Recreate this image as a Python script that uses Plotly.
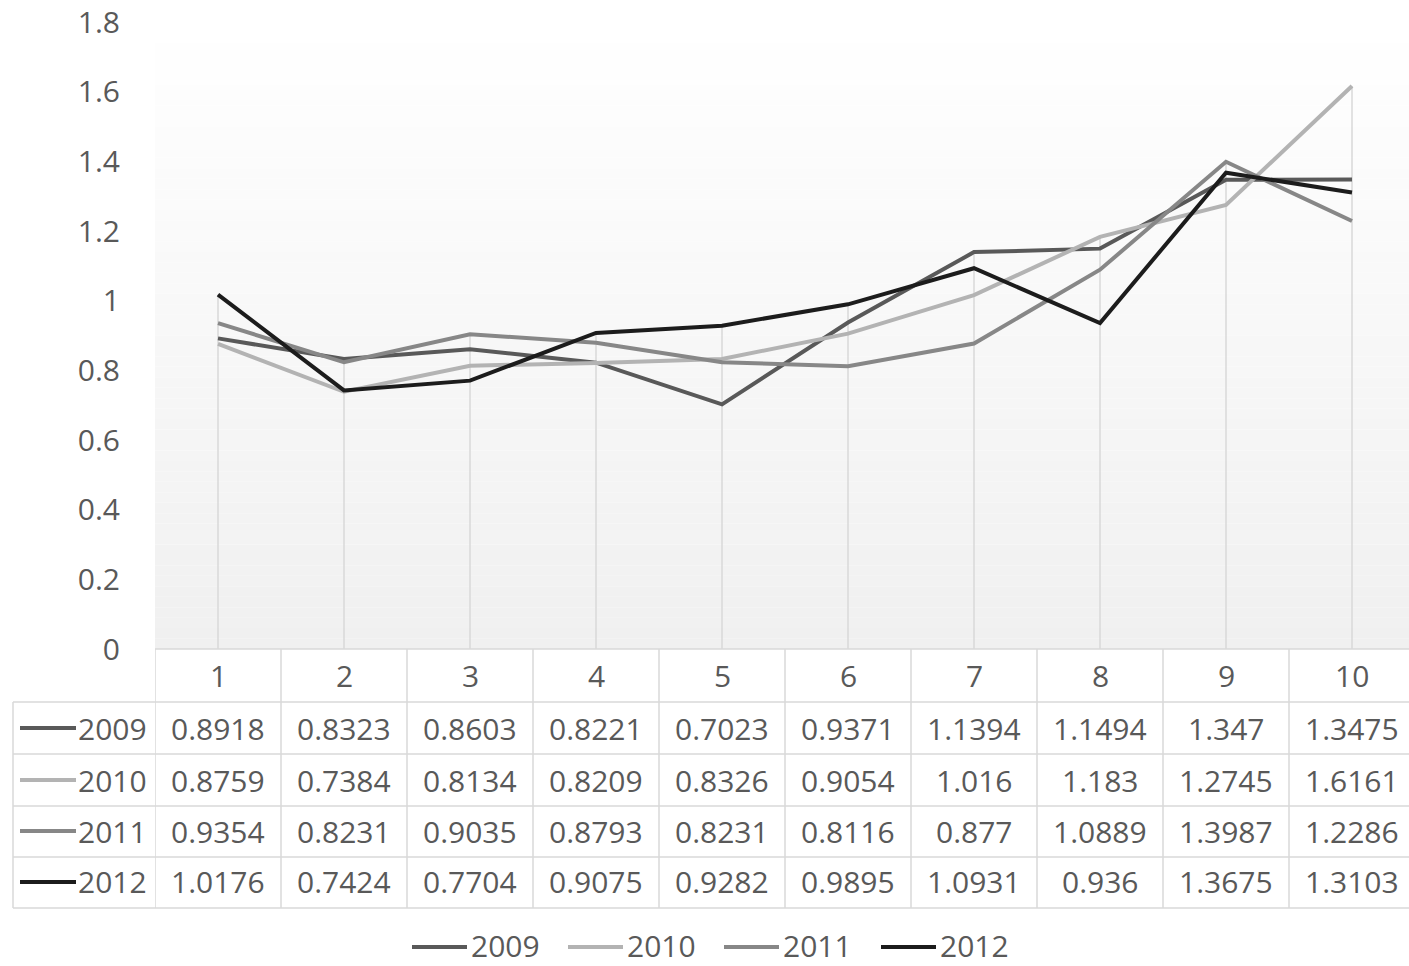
import plotly.graph_objects as go

categories = [1, 2, 3, 4, 5, 6, 7, 8, 9, 10]
series_names = ["2009", "2010", "2011", "2012"]
v2009 = [0.8918, 0.8323, 0.8603, 0.8221, 0.7023, 0.9371, 1.1394, 1.1494, 1.347, 1.3475]
v2010 = [0.8759, 0.7384, 0.8134, 0.8209, 0.8326, 0.9054, 1.016, 1.183, 1.2745, 1.6161]
v2011 = [0.9354, 0.8231, 0.9035, 0.8793, 0.8231, 0.8116, 0.877, 1.0889, 1.3987, 1.2286]
v2012 = [1.0176, 0.7424, 0.7704, 0.9075, 0.9282, 0.9895, 1.0931, 0.936, 1.3675, 1.3103]
y_ticks = [0, 0.2, 0.4, 0.6, 0.8, 1.0, 1.2, 1.4, 1.6, 1.8]
colors = ["#595959", "#b3b3b3", "#878787", "#1c1c1c"]

series = [v2009, v2010, v2011, v2012]

W, H = 1409, 966
PL, PR = 155, 1409  # plot area left/right in px
PT, PB = 22, 649    # plot area top/bottom in px
COLW = 126
FONT = "Open Sans"
TXT = "#595959"
GRID = "#d9d9d9"
FS = 30


def px_x(px):
    return (px - PL) / (PR - PL)


def px_y(py):
    return (PB - py) / (PB - PT)


fig = go.Figure()

# drop lines from highest point to the axis
dx, dy = [], []
for i, c in enumerate(categories):
    m = max(s[i] for s in series)
    dx += [c, c, None]
    dy += [0, m, None]
fig.add_trace(go.Scatter(x=dx, y=dy, mode="lines", line=dict(color=GRID, width=1.5),
                         hoverinfo="skip", showlegend=False))

for name, vals, col in zip(series_names, series, colors):
    fig.add_trace(go.Scatter(x=categories, y=vals, mode="lines", name=name,
                             line=dict(color=col, width=4), showlegend=False))

shapes = []
# gradient background
N = 60
for k in range(N):
    t0 = k / N
    t1 = (k + 1) / N
    tm = (t0 + t1) / 2  # 0 bottom, 1 top
    g = round(240 + (255 - 240) * tm)
    shapes.append(dict(type="rect", xref="x domain", yref="y domain", x0=0, x1=1, y0=t0, y1=t1,
                       fillcolor=f"rgb({g},{g},{g})", line=dict(width=0), layer="below"))

# table grid
row_edges = [649, 702, 754, 806, 857, 908]
shapes.append(dict(type="line", xref="paper", yref="paper", x0=0, x1=1,
                   y0=px_y(649), y1=px_y(649), line=dict(color=GRID, width=1.5)))
for ry in row_edges[1:]:
    shapes.append(dict(type="line", xref="paper", yref="paper", x0=px_x(13), x1=1,
                       y0=px_y(ry), y1=px_y(ry), line=dict(color=GRID, width=1.5)))
shapes.append(dict(type="line", xref="paper", yref="paper", x0=px_x(13), x1=px_x(13),
                   y0=px_y(702), y1=px_y(908), line=dict(color=GRID, width=1.5)))
for k in range(len(categories) + 1):
    shapes.append(dict(type="line", xref="x", yref="paper", x0=categories[0] - 0.5 + k,
                       x1=categories[0] - 0.5 + k, y0=px_y(649), y1=px_y(908),
                       line=dict(color=GRID, width=1.5)))

annotations = []
row_centers = [728, 780, 831, 882]


def txt(x, y, text, xref="x", xanchor="center"):
    return dict(x=x, y=y, xref=xref, yref="paper", text=text, showarrow=False,
                xanchor=xanchor, yanchor="middle",
                font=dict(family=FONT, size=FS, color=TXT))


for c in categories:
    annotations.append(txt(c, px_y(676), str(c)))
for name, vals, col, cy in zip(series_names, series, colors, row_centers):
    shapes.append(dict(type="line", xref="paper", yref="paper", x0=px_x(20), x1=px_x(76),
                       y0=px_y(cy), y1=px_y(cy), line=dict(color=col, width=4)))
    annotations.append(txt(px_x(149), px_y(cy), name, xref="paper", xanchor="right"))
    for c, v in zip(categories, vals):
        annotations.append(txt(c, px_y(cy), f"{v:g}"))

# bottom legend
leg_y = 945
leg_x = [412, 568, 724, 881]
for name, col, lx in zip(series_names, colors, leg_x):
    shapes.append(dict(type="line", xref="paper", yref="paper", x0=px_x(lx), x1=px_x(lx + 55),
                       y0=px_y(leg_y + 2), y1=px_y(leg_y + 2), line=dict(color=col, width=4)))
    annotations.append(txt(px_x(lx + 57), px_y(leg_y), name, xref="paper", xanchor="left"))

fig.update_layout(
    width=W, height=H,
    margin=dict(l=PL, r=W - PR, t=PT, b=H - PB, pad=0),
    paper_bgcolor="white", plot_bgcolor="white",
    font=dict(family=FONT, size=FS, color=TXT),
    xaxis=dict(range=[categories[0] - 0.5, categories[0] - 0.5 + (PR - PL) / COLW],
               showgrid=False, zeroline=False, showticklabels=False, showline=False,
               fixedrange=True),
    yaxis=dict(range=[0, 1.8], tickvals=y_ticks, showgrid=False, zeroline=False,
               showline=False, ticks="outside", ticklen=28, tickcolor="rgba(0,0,0,0)",
               tickfont=dict(family=FONT, size=FS, color=TXT)),
    shapes=shapes, annotations=annotations, showlegend=False,
)

fig.write_html("out.html")
